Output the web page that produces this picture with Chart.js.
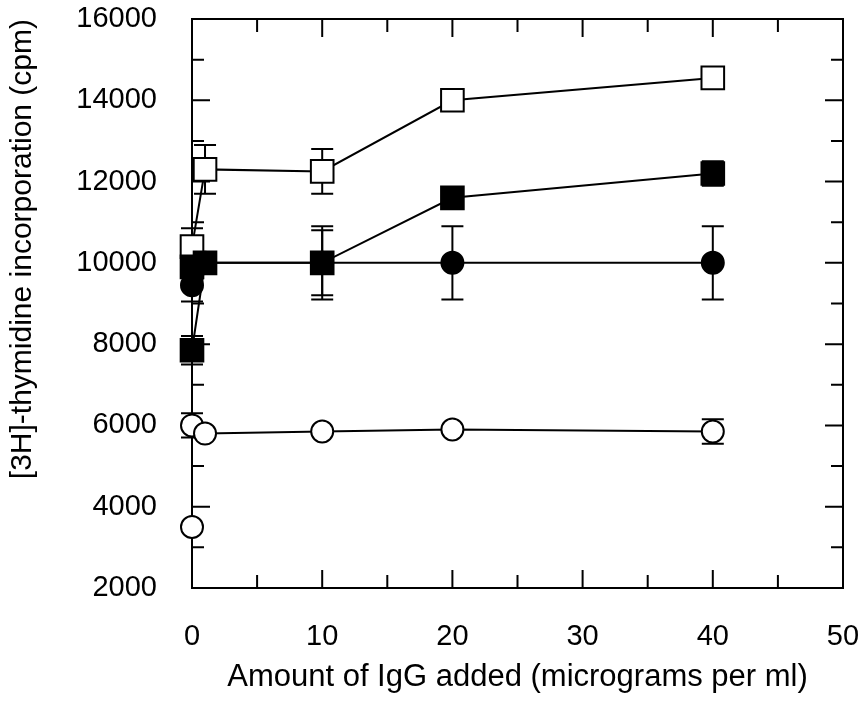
<!DOCTYPE html>
<html>
<head>
<meta charset="utf-8">
<script src="https://cdn.jsdelivr.net/npm/chart.js@4.4.1/dist/chart.umd.min.js"></script>
<style>
  html, body { margin: 0; padding: 0; background: #fff; }
  #c { display: block; }
</style>
</head>
<body>
<canvas id="c" width="864" height="706"></canvas>
<script>
// ─── data ───
const xTicks = [0, 10, 20, 30, 40, 50];
const yTicks = [2000, 4000, 6000, 8000, 10000, 12000, 14000, 16000];

// open squares
const xOpenSquare = [0, 1, 10, 20, 40];
const yOpenSquare = [10400, 12300, 12250, 14000, 14550];
const eOpenSquare = [450, 600, 550, 0, 150];

// filled squares
const xFilledSquare = [0, 0, 1, 10, 20, 40];
const yFilledSquare = [9900, 7850, 10000, 10000, 11600, 12200];
const eFilledSquare = [0, 350, 0, 800, 0, 300];

// filled circles
const xFilledCircle = [0, 1, 10, 20, 40];
const yFilledCircle = [9450, 10000, 10000, 10000, 10000];
const eFilledCircle = [400, 0, 900, 900, 900];

// open circles
const xOpenCircle = [0, 0, 1, 10, 20, 40];
const yOpenCircle = [3500, 6000, 5800, 5850, 5900, 5850];
const eOpenCircle = [0, 300, 0, 0, 0, 300];

const FONT = "'Liberation Sans', Arial, Helvetica, sans-serif";

function pts(xs, ys) {
  return xs.map((x, i) => ({ x: x, y: ys[i] }));
}

function series(label, xs, ys, errs, style, filled, order) {
  return {
    label: label,
    data: pts(xs, ys),
    errors: errs,
    showLine: true,
    borderColor: '#000',
    borderWidth: 2,
    pointStyle: style,
    pointRadius: style === 'rect' ? 16 : 11,
    pointBorderWidth: 2,
    pointBorderColor: '#000',
    pointBackgroundColor: filled ? '#000' : '#fff',
    clip: false,
    order: order,
  };
}

// frame with inward ticks on all four sides
const frameTicks = {
  id: 'frameTicks',
  beforeDatasetsDraw(chart) {
    const { ctx, chartArea: a, scales } = chart;
    ctx.save();
    ctx.strokeStyle = '#000';
    ctx.lineWidth = 2;
    ctx.strokeRect(a.left, a.top, a.right - a.left, a.bottom - a.top);
    ctx.beginPath();
    for (let v = 2000; v <= 16000; v += 1000) {
      const y = scales.y.getPixelForValue(v);
      const len = v % 2000 === 0 ? 18 : 12;
      ctx.moveTo(a.left, y); ctx.lineTo(a.left + len, y);
      ctx.moveTo(a.right, y); ctx.lineTo(a.right - len, y);
    }
    for (let v = 0; v <= 50; v += 5) {
      const x = scales.x.getPixelForValue(v);
      const len = v % 10 === 0 ? 18 : 13;
      ctx.moveTo(x, a.bottom); ctx.lineTo(x, a.bottom - len);
      ctx.moveTo(x, a.top); ctx.lineTo(x, a.top + len);
    }
    ctx.stroke();
    ctx.restore();
  }
};

// vertical error bars with caps, drawn under the markers
const errorBars = {
  id: 'errorBars',
  beforeDatasetsDraw(chart) {
    const { ctx, scales } = chart;
    ctx.save();
    ctx.strokeStyle = '#000';
    ctx.lineWidth = 2;
    chart.data.datasets.forEach(ds => {
      (ds.errors || []).forEach((e, i) => {
        if (!e) return;
        const p = ds.data[i];
        const x = scales.x.getPixelForValue(p.x);
        const t = scales.y.getPixelForValue(p.y + e);
        const b = scales.y.getPixelForValue(p.y - e);
        ctx.beginPath();
        ctx.moveTo(x, t); ctx.lineTo(x, b);
        ctx.moveTo(x - 11, t); ctx.lineTo(x + 11, t);
        ctx.moveTo(x - 11, b); ctx.lineTo(x + 11, b);
        ctx.stroke();
      });
    });
    ctx.restore();
  }
};

function noPad(s) {
  s.paddingTop = 0; s.paddingBottom = 0;
  s.paddingLeft = 0; s.paddingRight = 0;
}

new Chart(document.getElementById('c'), {
  type: 'scatter',
  data: {
    datasets: [
      series('open squares', xOpenSquare, yOpenSquare, eOpenSquare, 'rect', false, 3),
      series('filled circles', xFilledCircle, yFilledCircle, eFilledCircle, 'circle', true, 2),
      series('filled squares', xFilledSquare, yFilledSquare, eFilledSquare, 'rect', true, 1),
      series('open circles', xOpenCircle, yOpenCircle, eOpenCircle, 'circle', false, 0),
    ]
  },
  options: {
    responsive: false,
    devicePixelRatio: 1,
    animation: false,
    layout: { padding: { top: 19, right: 21, left: 0, bottom: 0 } },
    plugins: {
      legend: { display: false },
      tooltip: { enabled: false },
    },
    scales: {
      x: {
        type: 'linear',
        min: 0, max: 50,
        afterFit: s => { s.height = 118; noPad(s); },
        afterBuildTicks: s => { s.ticks = xTicks.map(v => ({ value: v })); },
        grid: { display: false, drawTicks: false },
        border: { display: false },
        ticks: {
          color: '#000', padding: 32, maxRotation: 0, autoSkip: false,
          font: { family: FONT, size: 29 },
          callback: v => String(v),
        },
        title: {
          display: true,
          text: 'Amount of IgG added (micrograms per ml)',
          color: '#000',
          font: { family: FONT, size: 31 },
          padding: { top: 0, bottom: 10 },
        }
      },
      y: {
        type: 'linear',
        min: 2000, max: 16000,
        afterFit: s => { s.width = 192; noPad(s); },
        afterBuildTicks: s => { s.ticks = yTicks.map(v => ({ value: v })); },
        grid: { display: false, drawTicks: false },
        border: { display: false },
        ticks: {
          color: '#000', padding: 35, autoSkip: false,
          font: { family: FONT, size: 29 },
          callback: v => String(v),
        },
        title: {
          display: true,
          text: '[3H]-thymidine incorporation (cpm)',
          align: 'end',
          color: '#000',
          font: { family: FONT, size: 30 },
          padding: { top: 5, bottom: 0 },
        }
      }
    }
  },
  plugins: [frameTicks, errorBars]
});
</script>
</body>
</html>
